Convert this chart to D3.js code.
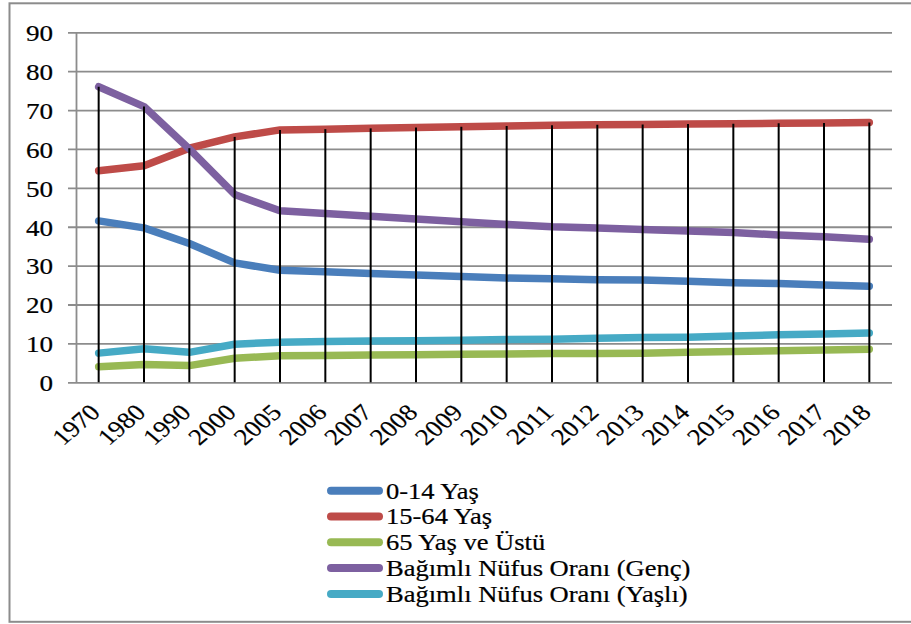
<!DOCTYPE html>
<html>
<head>
<meta charset="utf-8">
<script src="https://cdn.jsdelivr.net/npm/d3@7"></script>
<style>
  html, body { margin: 0; padding: 0; background: #fff; }
  svg { display: block; }
</style>
</head>
<body>
<svg id="chart" width="911" height="624"></svg>
<script>
const categories = ["1970","1980","1990","2000","2005","2006","2007","2008","2009","2010","2011","2012","2013","2014","2015","2016","2017","2018"];
const age0to14   = [41.5, 39.7, 35.7, 30.7, 28.8, 28.4, 28.0, 27.6, 27.2, 26.8, 26.6, 26.4, 26.3, 26.0, 25.6, 25.4, 25.0, 24.7];
const age15to64  = [54.4, 55.7, 60.2, 63.1, 64.9, 65.1, 65.3, 65.5, 65.7, 65.9, 66.1, 66.2, 66.3, 66.4, 66.5, 66.6, 66.7, 66.8];
const age65plus  = [4.0, 4.6, 4.3, 6.2, 6.8, 6.9, 7.0, 7.1, 7.2, 7.3, 7.4, 7.4, 7.5, 7.7, 7.9, 8.1, 8.3, 8.5];
const depYoung   = [76.0, 70.9, 60.0, 48.3, 44.1, 43.4, 42.7, 42.0, 41.3, 40.6, 40.0, 39.7, 39.3, 38.9, 38.5, 37.9, 37.4, 36.8];
const depOld     = [7.5, 8.6, 7.7, 9.8, 10.3, 10.5, 10.6, 10.7, 10.8, 11.0, 11.1, 11.3, 11.5, 11.6, 11.9, 12.2, 12.4, 12.7];
const yTicks = [0, 10, 20, 30, 40, 50, 60, 70, 80, 90];
const seriesNames = ["0-14 Yaş", "15-64 Yaş", "65 Yaş ve Üstü", "Bağımlı Nüfus Oranı (Genç)", "Bağımlı Nüfus Oranı (Yaşlı)"];
const seriesColors = ["#4a7ebb", "#be4b48", "#98b954", "#7d60a0", "#46aac5"];

(function () {
const FONT = "Liberation Serif";
const series = [age0to14, age15to64, age65plus, depYoung, depOld].map((v, i) => ({name: seriesNames[i], color: seriesColors[i], values: v}));

const SX = 1.18; // horizontal stretch of the original rendering
const svg = d3.select("#chart");

// outer border
svg.append("rect").attr("x", 9.5).attr("y", 3.3).attr("width", 905).attr("height", 618.5)
  .attr("fill", "none").attr("stroke", "#8c8c8c").attr("stroke-width", 2);

const pLeft = 76, pRight = 892, pTop = 32.3, pBottom = 382.3;
const x = d3.scalePoint().domain(categories).range([pLeft, pRight]).padding(0.5);
const y = d3.scaleLinear().domain([0, 90]).range([pBottom, pTop]);

// y axis with gridlines
const yAxis = d3.axisLeft(y).tickValues(yTicks).tickSizeOuter(0).tickSizeInner(8).tickFormat(d3.format("d"));
const gy = svg.append("g").attr("transform", `translate(${pLeft},0)`).call(yAxis)
  .attr("font-family", FONT).attr("font-size", 23);
gy.select(".domain").attr("stroke", "#8c8c8c").attr("stroke-width", 1.8);
gy.selectAll(".tick line").attr("x1", -8).attr("x2", pRight - pLeft).attr("stroke", "#8c8c8c").attr("stroke-width", 1.8);
gy.selectAll(".tick text")
  .attr("x", null).attr("dy", null)
  .attr("transform", `translate(-23,8.3) scale(${SX},1)`)
  .attr("text-anchor", "end")
  .attr("fill", "#000")
  .attr("stroke", "#000").attr("stroke-width", 0.2)
  .attr("font-family", FONT)
  .attr("font-size", 23);

// x labels
const gx = svg.append("g");
gx.selectAll("text").data(categories).enter().append("text")
  .attr("transform", d => `translate(${x(d) + 3},${pBottom + 31.5}) scale(${SX},1) rotate(-45)`)
  .attr("text-anchor", "end")
  .attr("font-family", FONT)
  .attr("font-size", 23)
  .attr("fill", "#000")
  .attr("stroke", "#000").attr("stroke-width", 0.2)
  .text(d => d);

// series lines
const line = d3.line().x((d, i) => x(categories[i])).y(d => y(d));
svg.append("g").selectAll("path").data(series).enter().append("path")
  .attr("d", s => line(s.values))
  .attr("fill", "none")
  .attr("stroke", s => s.color)
  .attr("stroke-width", 7.5)
  .attr("stroke-linecap", "round")
  .attr("stroke-linejoin", "round");

// drop lines from highest value
const maxVals = categories.map((c, i) => d3.max(series, s => s.values[i]));
svg.append("g").selectAll("line").data(categories).enter().append("line")
  .attr("x1", d => x(d)).attr("x2", d => x(d))
  .attr("y1", (d, i) => y(maxVals[i])).attr("y2", y(0))
  .attr("stroke", "#000").attr("stroke-width", 2);

// legend
const lg = svg.append("g");
const legendBase = 498.5, legendStep = 25.8;
series.forEach((s, i) => {
  const by = legendBase + i * legendStep;
  lg.append("line").attr("x1", 331).attr("x2", 379).attr("y1", by - 7.8).attr("y2", by - 7.8)
    .attr("stroke", s.color).attr("stroke-width", 8).attr("stroke-linecap", "round");
  lg.append("text").attr("transform", `translate(386,${by}) scale(${SX},1)`)
    .attr("font-family", FONT).attr("font-size", 22.5)
    .attr("fill", "#000").attr("stroke", "#000").attr("stroke-width", 0.2)
    .text(s.name);
});
})();
</script>
</body>
</html>
